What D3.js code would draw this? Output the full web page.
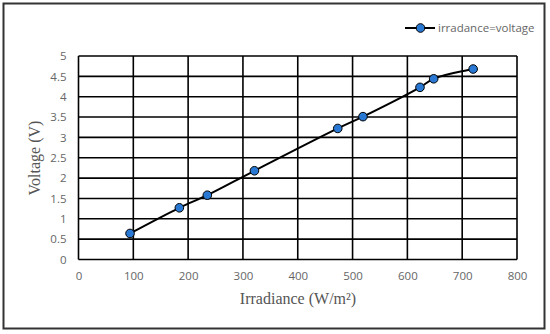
<!DOCTYPE html>
<html><head><meta charset="utf-8">
<script src="https://cdn.jsdelivr.net/npm/d3@7"></script>
<style>body{margin:0;background:#fff}</style>
</head><body>
<svg id="c" width="550" height="334"></svg>
<script>
const irradiance = [94, 184, 235, 321, 473, 519, 623, 648, 720];
const voltage = [0.64, 1.27, 1.58, 2.18, 3.22, 3.51, 4.23, 4.44, 4.68];
const xTicks = [0, 100, 200, 300, 400, 500, 600, 700, 800];
const yTicks = [0, 0.5, 1, 1.5, 2, 2.5, 3, 3.5, 4, 4.5, 5];
const seriesName = "irradance=voltage";

const svg = d3.select("#c");
svg.append("rect").attr("x",3.5).attr("y",3.5).attr("width",541).attr("height",325)
  .attr("fill","#fff").attr("stroke","#333").attr("stroke-width",2);

const x = d3.scaleLinear().domain([0,800]).range([78.5,517]);
const y = d3.scaleLinear().domain([0,5]).range([259.5,56]);

const grid = svg.append("g").attr("stroke","#000").attr("stroke-width",1.6);
yTicks.forEach(t=>grid.append("line").attr("x1",x(0)).attr("x2",x(800)).attr("y1",y(t)).attr("y2",y(t)));
xTicks.forEach(t=>grid.append("line").attr("x1",x(t)).attr("x2",x(t)).attr("y1",y(0)).attr("y2",y(5)));

const tickFont = "'Open Sans', sans-serif";
const xAxis = svg.append("g").attr("transform",`translate(0,${y(0)})`)
  .call(d3.axisBottom(x).tickValues(xTicks).tickSize(0).tickPadding(12));
xAxis.select(".domain").remove();
xAxis.selectAll("text").attr("fill","#666").style("font-family",tickFont).style("font-size","11.5px");
const yAxis = svg.append("g").attr("transform",`translate(${x(0)},0)`)
  .call(d3.axisLeft(y).tickValues(yTicks).tickSize(0).tickPadding(12).tickFormat(d3.format("")));
yAxis.select(".domain").remove();
yAxis.selectAll("text").attr("fill","#666").style("font-family",tickFont).style("font-size","11.5px");

svg.append("text").attr("x",298).attr("y",304).attr("text-anchor","middle")
  .attr("fill","#555").style("font-family","'Liberation Serif', serif").style("font-size","16px")
  .text("Irradiance (W/m²)");
svg.append("text").attr("transform","translate(40,158) rotate(-90)").attr("text-anchor","middle")
  .attr("fill","#555").style("font-family","'Liberation Serif', serif").style("font-size","16px")
  .text("Voltage (V)");

const data = irradiance.map((v,i)=>({x:v,y:voltage[i]}));
svg.append("path").datum(data).attr("fill","none").attr("stroke","#000").attr("stroke-width",2)
  .attr("d", d3.line().x(d=>x(d.x)).y(d=>y(d.y)).curve(d3.curveCatmullRom.alpha(0.5)));
svg.selectAll("circle.pt").data(data).enter().append("circle").attr("class","pt")
  .attr("cx",d=>x(d.x)).attr("cy",d=>y(d.y)).attr("r",4.3)
  .attr("fill","#2979d4").attr("stroke","#000").attr("stroke-width",1);

const lg = svg.append("g");
lg.append("line").attr("x1",405).attr("x2",435).attr("y1",28).attr("y2",28).attr("stroke","#000").attr("stroke-width",2);
lg.append("circle").attr("cx",420.5).attr("cy",28).attr("r",4.3).attr("fill","#2979d4").attr("stroke","#000");
lg.append("text").attr("x",438).attr("y",32).attr("fill","#666").style("font-family",tickFont)
  .style("font-size","11.5px").text(seriesName);
</script>
</body></html>
